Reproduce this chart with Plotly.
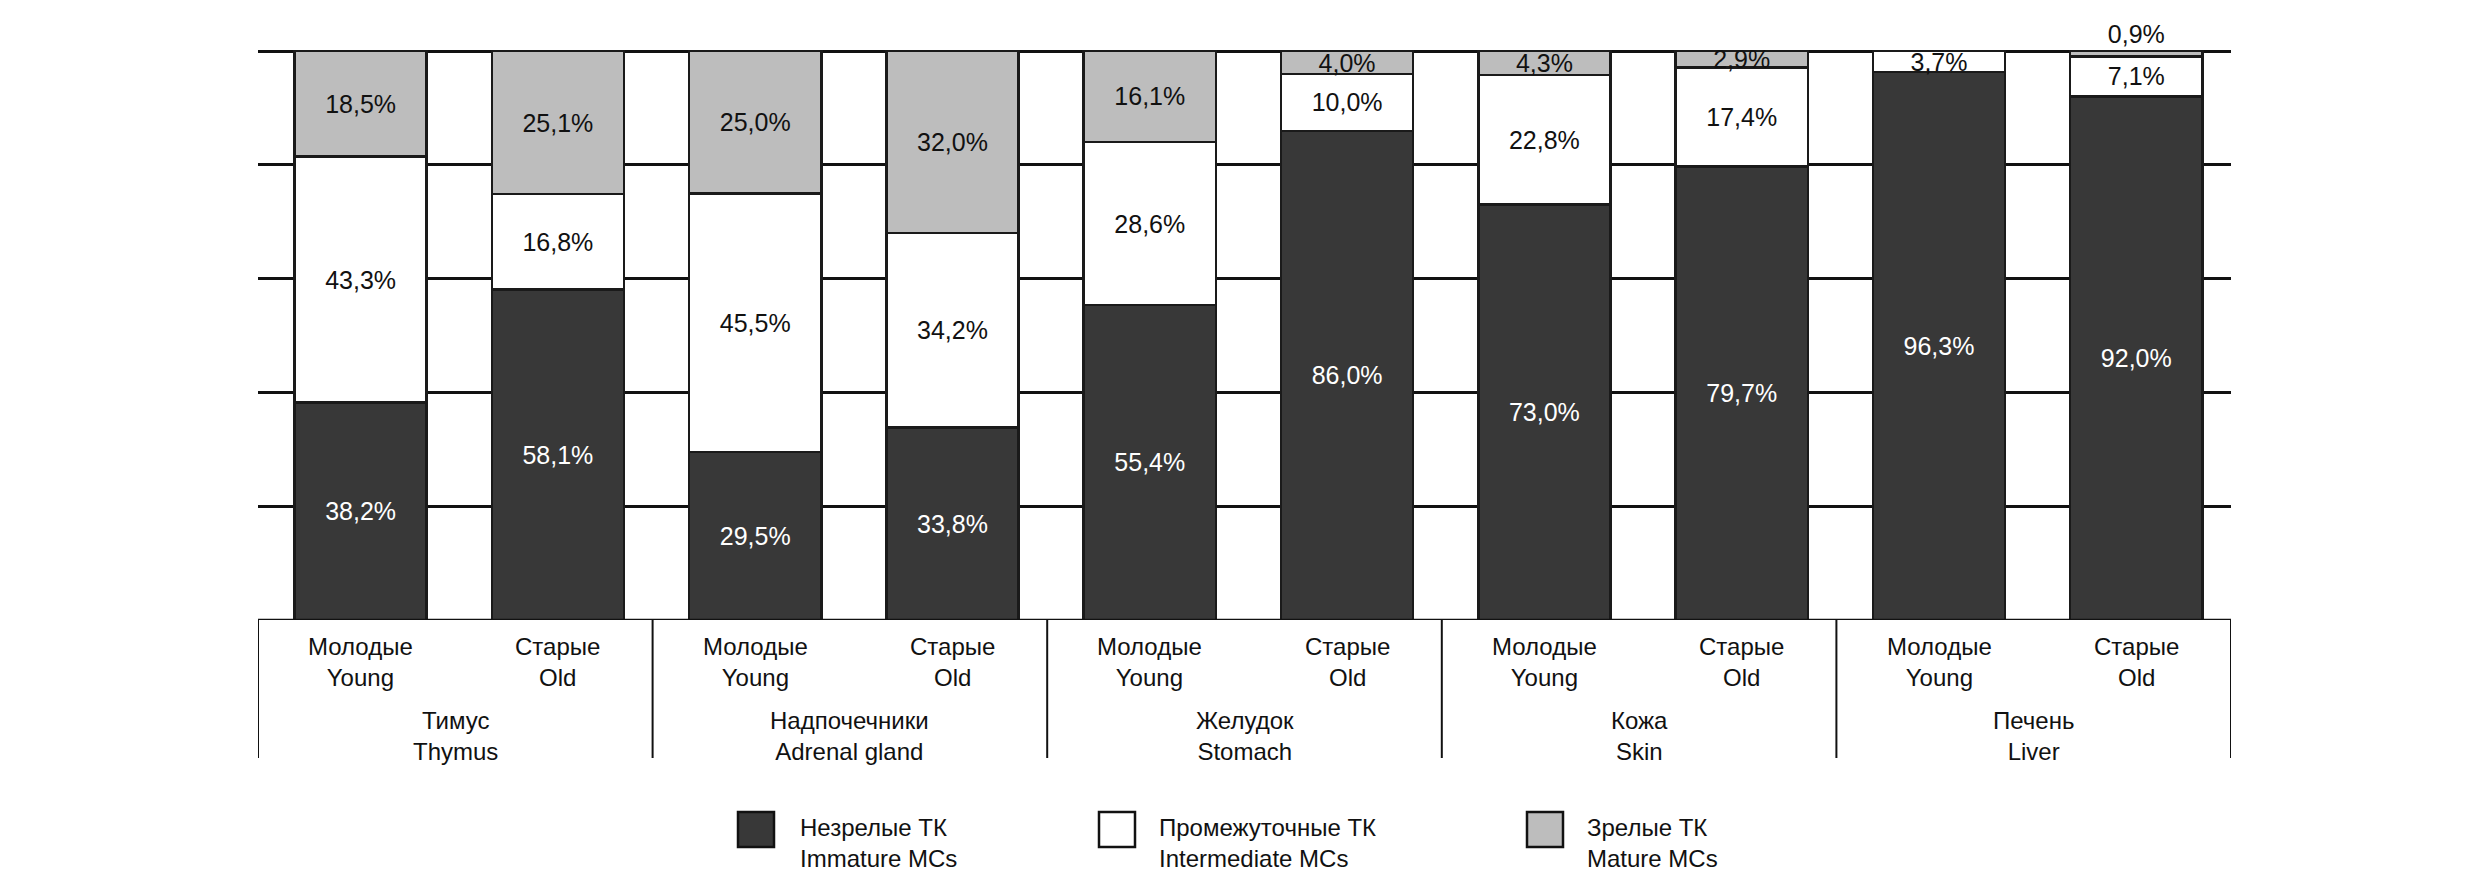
import plotly.graph_objects as go

# ---- data ----
organs_ru = ["Тимус", "Надпочечники", "Желудок", "Кожа", "Печень"]
organs_en = ["Thymus", "Adrenal gland", "Stomach", "Skin", "Liver"]
age_ru = ["Молодые", "Старые"]
age_en = ["Young", "Old"]

immature = [38.2, 58.1, 29.5, 33.8, 55.4, 86.0, 73.0, 79.7, 96.3, 92.0]
intermediate = [43.3, 16.8, 45.5, 34.2, 28.6, 10.0, 22.8, 17.4, 3.7, 7.1]
mature = [18.5, 25.1, 25.0, 32.0, 16.1, 4.0, 4.3, 2.9, 0.0, 0.9]

series_names = ["Незрелые ТК<br>Immature MCs",
                "Промежуточные ТК<br>Intermediate MCs",
                "Зрелые ТК<br>Mature MCs"]
series_colors = ["#383838", "#ffffff", "#bdbdbd"]
text_colors = ["#ffffff", "#111111", "#111111"]

FONT = "Liberation Sans, Arial, sans-serif"

# page is offset by the 8px body margin
OFF = 8
W, H = 2480 - OFF, 892 - OFF
PLOT_L, PLOT_R, PLOT_T, PLOT_B = 258, 2231, 50, 620   # page pixels
ML = PLOT_L - OFF
MT = PLOT_T - OFF
MR = W - (PLOT_R - OFF)
MB = H - (PLOT_B - OFF)
PW = PLOT_R - PLOT_L
PH = PLOT_B - PLOT_T

BAR_W = 0.67
SHIFT = 0.02   # bars sit slightly right of slot centres in the reference


def py(pix):
    """page pixel y -> paper y"""
    return (PLOT_B - pix) / PH


def px(pix):
    """page pixel x -> paper x"""
    return (pix - PLOT_L) / PW


def fmt(v):
    return ("%.1f" % v).replace(".", ",") + "%"


xs = list(range(len(immature)))
fig = go.Figure()
for vals, name, col, tcol in zip([immature, intermediate, mature], series_names,
                                 series_colors, text_colors):
    texts = [fmt(v) if v > 0 else "" for v in vals]
    positions = ["outside" if (vals is mature and 0 < v < 2) else "inside" for v in vals]
    fig.add_trace(go.Bar(
        x=xs, y=vals, name=name, width=BAR_W, offset=-BAR_W / 2 + SHIFT,
        marker=dict(color=col, line=dict(color="#1a1a1a", width=2.5)),
        text=texts, textposition=positions, insidetextanchor="middle",
        textangle=0, cliponaxis=False,
        textfont=dict(family=FONT, size=25, color=tcol),
        showlegend=False,
    ))

shapes = []
annotations = []
# top line of the category table (baseline)
shapes.append(dict(type="line", xref="paper", yref="y", x0=0, x1=1, y0=0, y1=0,
                   line=dict(color="#111111", width=2.5)))
n_groups = len(organs_ru)
for g in range(n_groups + 1):
    xb = 2 * g - 0.5
    shapes.append(dict(type="line", xref="x", yref="paper", x0=xb, x1=xb,
                       y0=0, y1=py(758), line=dict(color="#111111", width=2)))

for i in xs:
    annotations.append(dict(
        x=i + SHIFT, xref="x", y=py(662), yref="paper", showarrow=False,
        text=age_ru[i % 2] + "<br>" + age_en[i % 2], yanchor="middle",
        font=dict(family=FONT, size=24, color="#111111")))
for g in range(n_groups):
    annotations.append(dict(
        x=2 * g + 0.5, xref="x", y=py(736), yref="paper", showarrow=False,
        text=organs_ru[g] + "<br>" + organs_en[g], yanchor="middle",
        font=dict(family=FONT, size=24, color="#111111")))

# custom legend
leg_sq_x = [738, 1099, 1527]
leg_txt_x = [798, 1157, 1585]
for k in range(3):
    shapes.append(dict(type="rect", xref="paper", yref="paper",
                       x0=px(leg_sq_x[k]), x1=px(leg_sq_x[k] + 36),
                       y0=py(847), y1=py(812),
                       fillcolor=series_colors[k],
                       line=dict(color="#111111", width=2.5)))
    annotations.append(dict(
        x=px(leg_txt_x[k]), xref="paper", y=py(843), yref="paper",
        xanchor="left", yanchor="middle", align="left", showarrow=False,
        text=series_names[k],
        font=dict(family=FONT, size=24, color="#111111")))

fig.update_layout(
    width=W, height=H,
    margin=dict(l=ML, r=MR, t=MT, b=MB, pad=0),
    barmode="stack",
    plot_bgcolor="white", paper_bgcolor="white",
    uniformtext=dict(minsize=25, mode="show"),
    shapes=shapes, annotations=annotations,
    xaxis=dict(range=[-0.5, 9.5], showgrid=False, zeroline=False,
               showticklabels=False, showline=False, ticks=""),
    yaxis=dict(range=[0, 100.2], dtick=20, tick0=0, showgrid=True,
               gridcolor="#111111", gridwidth=2.5, zeroline=False,
               showticklabels=False, showline=False, ticks=""),
)

fig.write_html("out.html")
